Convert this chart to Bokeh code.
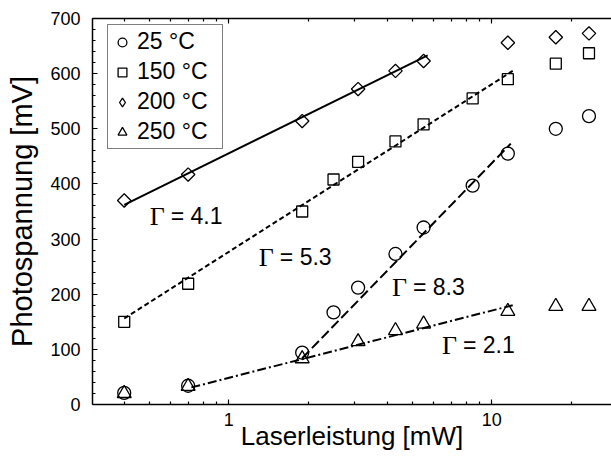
import numpy as np
from bokeh.plotting import figure
from bokeh.models import Range1d, FixedTicker, SingleIntervalTicker, LogAxis, Legend, LegendItem
from bokeh.core.properties import value
from bokeh.embed import file_html
from bokeh.resources import INLINE

# ---- data ----
x_full = [0.4, 0.7, 1.9, 2.5, 3.1, 4.3, 5.5, 8.45, 11.5, 17.5, 23.4]
x_part = [0.4, 0.7, 1.9, 3.1, 4.3, 5.5, 11.5, 17.5, 23.4]
y_25 = [21, 34, 94, 167, 212, 273, 321, 397, 455, 500, 523]
y_150 = [150, 219, 350, 408, 440, 477, 508, 555, 590, 618, 637]
y_200 = [370, 417, 514, 572, 605, 623, 656, 666, 673]
y_250 = [20, 33, 83, 114, 134, 146, 169, 178, 178]

fit_200_x = [0.4, 5.7]
fit_200_y = [362, 633]
fit_150_x = [0.4, 12.0]
fit_150_y = [156, 605]
fit_25_x = [1.9, 11.8]
fit_25_y = [84, 473]
fit_250_x = [0.72, 12.0]
fit_250_y = [31, 180]

gamma_x = [0.50, 1.30, 4.17, 6.46]
gamma_y = [341, 267, 213, 107]
gamma_labels = ["= 4.1", "= 5.3", "= 8.3", "= 2.1"]

legend_labels = ["25 °C", "150 °C", "200 °C", "250 °C"]
x_major = [1, 10]
x_minor = [0.4, 0.5, 0.6, 0.7, 0.8, 0.9, 2, 3, 4, 5, 6, 7, 8, 9, 20]
x_tick_labels = {1: "1", 10: "10"}
top_tick_labels = {1: "", 10: ""}

SANS = "Liberation Sans"
SERIF = "Liberation Serif"

p = figure(width=611, height=458, x_axis_type="log",
           x_range=Range1d(0.303, 28.5), y_range=Range1d(0, 700),
           output_backend="svg", toolbar_location=None,
           min_border_left=92, min_border_right=0, min_border_top=18, min_border_bottom=54)
p.outline_line_color = None
p.xgrid.visible = False
p.ygrid.visible = False
p.background_fill_color = "white"

# fit lines
p.line(fit_200_x, fit_200_y, line_color="black", line_width=2)
p.line(fit_150_x, fit_150_y, line_color="black", line_width=2, line_dash="5 3")
p.line(fit_25_x, fit_25_y, line_color="black", line_width=2, line_dash="10 4")
p.line(fit_250_x, fit_250_y, line_color="black", line_width=2, line_dash="9 3 2 3")

mk = dict(fill_color=None, line_color="black", line_width=1.3)
r25 = p.scatter(x_full, y_25, marker="circle", size=13, **mk)
r150 = p.scatter(x_full, y_150, marker="square", size=11, **mk)
r200 = p.scatter(x_part, y_200, marker="square", size=9.5, angle=np.pi / 4, **mk)
r250 = p.scatter(x_part, y_250, marker="triangle", size=14, **mk)
# legend symbol for the diamond series (legend markers are never rotated):
# same data, diamond marker with zero size on the plot (the legend sizes its own symbol)
r200_leg = p.scatter(x_part, y_200, marker="diamond", size=0, **mk)

# Gamma annotations
p.text(x=gamma_x, y=gamma_y, text=["Γ"] * len(gamma_x), text_font=value(SERIF),
       text_font_size="26px", text_baseline="alphabetic", text_align="left", text_color="black")
p.text(x=gamma_x, y=gamma_y, text=gamma_labels, x_offset=21, text_font=value(SANS),
       text_font_size="23px", text_baseline="alphabetic", text_align="left", text_color="black")

# axes
bax = p.below[0]
bax.ticker = FixedTicker(ticks=x_major, minor_ticks=x_minor)
bax.major_label_overrides = x_tick_labels
bax.axis_label = "Laserleistung [mW]"
bax.major_label_standoff = 8
bax.axis_label_standoff = -8
bax.major_label_text_font_size = "18px"
bax.axis_label_text_font_size = "26px"

top = LogAxis(ticker=FixedTicker(ticks=x_major, minor_ticks=x_minor),
              major_label_overrides=top_tick_labels,
              major_label_text_font_size="1px", major_label_standoff=0)
p.add_layout(top, "above")

yax = p.left[0]
yax.ticker = SingleIntervalTicker(interval=100, num_minor_ticks=5)
yax.axis_label = "Photospannung [mV]"
yax.major_label_standoff = 12
yax.axis_label_standoff = 9
yax.major_label_text_font_size = "18px"
yax.axis_label_text_font_size = "29px"

for ax in [bax, top, yax]:
    ax.major_tick_in = 5
    ax.major_tick_out = 0
    ax.minor_tick_in = 3
    ax.minor_tick_out = 0
    ax.axis_line_width = 1.5
    ax.axis_line_color = "black"
    ax.major_tick_line_color = "black"
    ax.minor_tick_line_color = "black"
    ax.major_tick_line_width = 1.2
    ax.minor_tick_line_width = 1.2
    ax.major_label_text_font = SANS
    ax.major_label_text_color = "black"
    ax.axis_label_text_font = SANS
    ax.axis_label_text_font_style = "normal"
    ax.axis_label_text_color = "black"

legend = Legend(items=[LegendItem(label=legend_labels[0], renderers=[r25]),
                       LegendItem(label=legend_labels[1], renderers=[r150]),
                       LegendItem(label=legend_labels[2], renderers=[r200_leg]),
                       LegendItem(label=legend_labels[3], renderers=[r250])],
                location=(15, 255))
legend.border_line_color = "black"
legend.border_line_width = 1.2
legend.background_fill_color = "white"
legend.background_fill_alpha = 1
legend.label_text_font = SANS
legend.label_text_font_size = "23px"
legend.label_text_color = "black"
legend.glyph_width = 22
legend.glyph_height = 24
legend.label_height = 24
legend.spacing = 3
legend.padding = 3
legend.margin = 0
legend.label_standoff = 4
legend.label_width = 82
p.add_layout(legend)

open("out.html", "w").write(file_html(p, INLINE))
